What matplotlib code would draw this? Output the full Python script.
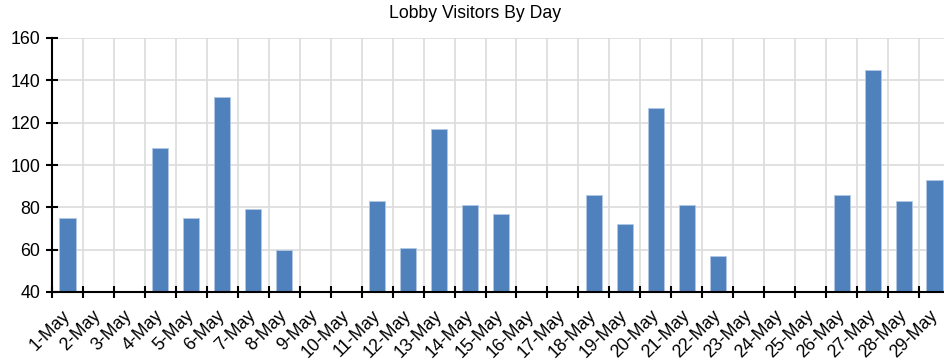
import matplotlib.pyplot as plt
import numpy as np

plt.rcParams['font.family'] = ['Liberation Sans', 'DejaVu Sans']

days = [f"{d}-May" for d in range(1, 30)]
visitors = [75, 0, 0, 108, 75, 132, 79, 60, 0, 0,
            83, 61, 117, 81, 77, 0, 0, 86, 72, 127,
            81, 57, 0, 0, 0, 86, 145, 83, 93]

fig = plt.figure(figsize=(9.44, 3.64), dpi=100)
ax = fig.add_axes([52 / 944, 72 / 364, 898 / 944, 254 / 364])

x = np.arange(len(days))
ax.bar(x, visitors, width=0.52, color='#4f81bd', edgecolor='#b3c8e4',
       linewidth=0.6, zorder=3)

ax.set_xlim(-0.5, len(days) - 0.5)
ax.set_ylim(40, 160)
ax.set_yticks(range(40, 161, 20))

# labels sit under the bands, ticks and grid at the band edges
ax.set_xticks(x)
ax.set_xticklabels(days, rotation=45, ha='right', va='center', rotation_mode='anchor')
ax.set_xticks(np.arange(len(days)) - 0.5, minor=True)
ax.tick_params(axis='x', which='major', length=0, labelsize=12.8, pad=15)
ax.tick_params(axis='x', which='minor', direction='inout', length=9, width=1.5)
ax.tick_params(axis='y', direction='inout', length=9, width=1.5, labelsize=12.8, pad=4)

ax.grid(True, axis='y', color='#dcdcdc', linewidth=1.2, zorder=0)
ax.grid(True, axis='x', which='minor', color='#dcdcdc', linewidth=1.2, zorder=0)
ax.grid(False, axis='x', which='major')

for side in ('top', 'right'):
    ax.spines[side].set_visible(False)
for side in ('left', 'bottom'):
    ax.spines[side].set_linewidth(1.5)
    ax.spines[side].set_zorder(4)

fig.text(475 / 944, 1 - 14 / 364, 'Lobby Visitors By Day', ha='center', va='center', fontsize=12.7)

fig.savefig('out.png', dpi=100)
